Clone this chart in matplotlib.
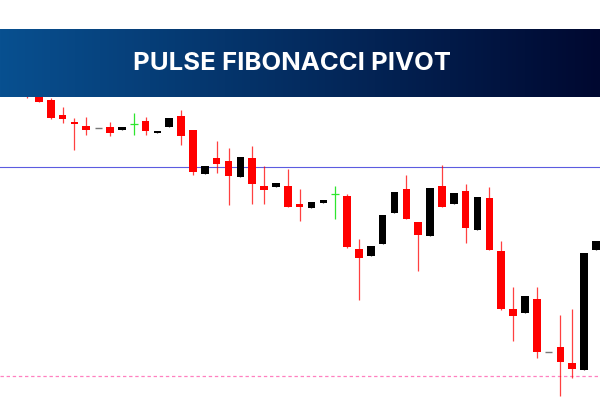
import matplotlib
matplotlib.use('Agg')
import matplotlib.pyplot as plt
import numpy as np

# candles, oldest first (price = arbitrary chart units)
opens = [310, 312, 300, 285, 278, 274, 272, 273, 270, 276, 279, 267, 273, 284, 270, 226, 242, 239, 223, 242, 214, 213, 214, 196, 192,
         197, 206, 204, 151, 144, 156, 187, 211, 178, 164, 214, 196, 209, 170, 202, 149, 91, 87, 101, 48, 53, 37, 30, 150]
highs = [315, 315, 302, 293, 282, 283, 273, 278, 273, 287, 283, 269, 282, 290, 270, 234, 259, 252, 243, 254, 234, 217, 231, 211, 198,
         200, 214, 206, 161, 154, 185, 208, 225, 178, 212, 235, 207, 216, 203, 213, 159, 113, 104, 113, 48, 85, 91, 147, 159]
lows = [302, 298, 281, 277, 250, 265, 272, 264, 270, 265, 265, 267, 273, 255, 225, 226, 227, 195, 223, 196, 196, 213, 193, 179, 192,
        197, 181, 152, 100, 144, 156, 187, 181, 129, 164, 193, 196, 157, 170, 150, 90, 59, 87, 42, 48, 4, 22, 30, 150]
closes = [304, 298, 282, 281, 276, 270, 273, 267, 273, 276, 269, 269, 282, 264, 228, 234, 236, 224, 243, 216, 210, 217, 193, 193, 198,
          200, 206, 153, 142, 154, 185, 208, 181, 165, 212, 193, 207, 172, 203, 150, 91, 84, 104, 48, 48, 38, 31, 147, 159]

pivot_level = 232.7
support_level = 24.3
title = 'PULSE FIBONACCI PIVOT'

RED = '#ff0000'
BLACK = '#000000'
GREEN = '#2ee62e'

fig = plt.figure(figsize=(6, 4), dpi=100, facecolor='white')

ax = fig.add_axes([0, 0, 1, 1])
ax.set_xlim(-27 / 11.854, (600 - 27) / 11.854)
ax.set_ylim(0, 400)
ax.axis('off')

ax.axhline(pivot_level, color='#5c5ce0', lw=0.8, zorder=1)
ax.axhline(support_level, color='#ff80c0', lw=0.9, ls=(0, (2.7, 2.2)), zorder=1)

x = np.arange(len(opens))
for i in x:
    o, h, l, c = opens[i], highs[i], lows[i], closes[i]
    if h - l < 2:
        # flat candle, only a short grey dash
        ax.hlines(o, i - 0.3, i + 0.3, color='#777777', lw=1.0, zorder=2)
    elif o == c:
        ax.vlines(i, l, h, color=GREEN, lw=0.9, zorder=2)
        ax.hlines(o, i - 0.33, i + 0.33, color=GREEN, lw=0.9, zorder=2)
    else:
        col = RED if c < o else BLACK
        ax.vlines(i, l, h, color=col, lw=0.9, alpha=0.75, zorder=2)
        ax.bar(i, abs(c - o), bottom=min(o, c), width=0.64, color=col, lw=0, zorder=3)

# title banner with the horizontal gradient
ban = fig.add_axes([0, 1 - 97 / 400, 1, 68 / 400], zorder=5)
grad = np.linspace(0, 1, 600)[None, :, None]
left = np.array([8, 80, 144]) / 255
right = np.array([0, 8, 48]) / 255
ban.imshow(left + grad * (right - left), aspect='auto', extent=(0, 1, 0, 1))
ban.axis('off')
ban.text(0.486, 0.49, title, color='white', fontsize=18.5, fontweight='bold',
         family=['Inter', 'DejaVu Sans'], ha='center', va='center', transform=ban.transAxes)

fig.savefig('out.png', dpi=100)
